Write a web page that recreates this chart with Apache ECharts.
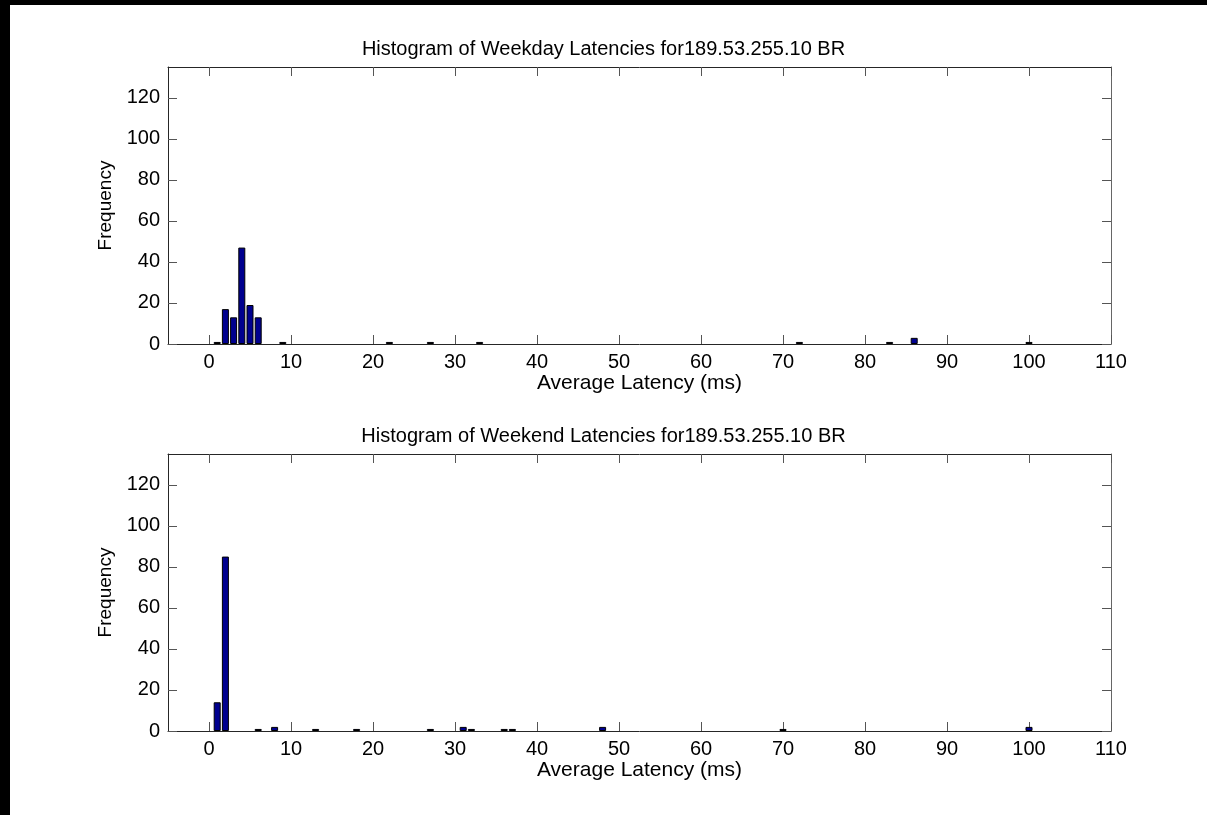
<!DOCTYPE html>
<html>
<head>
<meta charset="utf-8">
<script src="https://cdn.jsdelivr.net/npm/echarts@6/dist/echarts.min.js"></script>
<style>
html,body{margin:0;padding:0;background:#fff;}
#c{width:1207px;height:815px;}
</style>
</head>
<body>
<div id="c"></div>
<script>
// Data
const weekdayBins = [1, 2, 3, 4, 5, 6, 9, 22, 27, 33, 72, 83, 86, 100];
const weekdayCounts = [1, 17, 13, 47, 19, 13, 1, 1, 1, 1, 1, 1, 3, 1];
const weekendBins = [1, 2, 6, 8, 13, 18, 27, 31, 32, 36, 37, 48, 70, 100];
const weekendCounts = [14, 85, 1, 2, 1, 1, 1, 2, 1, 1, 1, 2, 1, 2];
const xTickLabels = [0, 10, 20, 30, 40, 50, 60, 70, 80, 90, 100, 110];
const yTickLabels = [0, 20, 40, 60, 80, 100, 120];
const titles = [
  'Histogram of Weekday Latencies for189.53.255.10 BR',
  'Histogram of Weekend Latencies for189.53.255.10 BR'
];
const xName = 'Average Latency (ms)';
const yName = 'Frequency';

const FONT = 'Liberation Sans';
const axisColor = '#262626';
const tickColor = '#555';

function pairs(xs, ys) { return xs.map((x, i) => [x, ys[i]]); }

const grids = [
  { left: 168, top: 67, width: 943, height: 277 },
  { left: 168, top: 454, width: 943, height: 277 }
];

const xAxes = [], yAxes = [], series = [], titleOpts = [];
grids.forEach((g, gi) => {
  xAxes.push({
    type: 'value', gridIndex: gi, position: 'bottom', min: -5, max: 110,
    name: xName, nameLocation: 'middle', nameGap: 27,
    nameTextStyle: { fontFamily: FONT, fontSize: 21, color: '#000' },
    axisLine: { show: true, onZero: false, lineStyle: { color: axisColor, width: 1 } },
    axisTick: { show: true, inside: true, length: 9, customValues: xTickLabels, lineStyle: { color: tickColor } },
    axisLabel: { show: true, customValues: xTickLabels, margin: 8, fontFamily: FONT, fontSize: 20, color: '#000' },
    splitLine: { show: false }
  });
  xAxes.push({
    type: 'value', gridIndex: gi, position: 'top', min: -5, max: 110,
    axisLine: { show: true, onZero: false, lineStyle: { color: axisColor, width: 1 } },
    axisTick: { show: true, inside: true, length: 9, customValues: xTickLabels, lineStyle: { color: tickColor } },
    axisLabel: { show: false },
    splitLine: { show: false }
  });
  yAxes.push({
    type: 'value', gridIndex: gi, position: 'left', min: 0, max: 135,
    name: yName, nameLocation: 'middle', nameRotate: 90, nameGap: 52,
    nameTextStyle: { fontFamily: FONT, fontSize: 19, color: '#000' },
    axisLine: { show: true, onZero: false, lineStyle: { color: axisColor, width: 1 } },
    axisTick: { show: true, inside: true, length: 9, customValues: yTickLabels, lineStyle: { color: tickColor } },
    axisLabel: { show: true, customValues: yTickLabels, margin: 8, fontFamily: FONT, fontSize: 20, color: '#000' },
    splitLine: { show: false }
  });
  yAxes.push({
    type: 'value', gridIndex: gi, position: 'right', min: 0, max: 135,
    axisLine: { show: true, onZero: false, lineStyle: { color: '#666', width: 1 } },
    axisTick: { show: true, inside: true, length: 9, customValues: yTickLabels, lineStyle: { color: tickColor } },
    axisLabel: { show: false },
    splitLine: { show: false }
  });
  titleOpts.push({
    text: titles[gi], left: 'center', top: g.top - 33,
    textStyle: { fontFamily: FONT, fontSize: 20, fontWeight: 'normal', color: '#000' }
  });
});

const datasets = [pairs(weekdayBins, weekdayCounts), pairs(weekendBins, weekendCounts)];
datasets.forEach((d, gi) => {
  series.push({
    type: 'bar', xAxisIndex: gi * 2, yAxisIndex: gi * 2,
    data: d, barWidth: 7, silent: true, animation: false,
    itemStyle: { color: '#00008F', borderColor: '#000', borderWidth: 1 }
  });
});

const chart = echarts.init(document.getElementById('c'), null, { renderer: 'canvas' });
chart.setOption({
  animation: false,
  backgroundColor: '#fff',
  title: titleOpts,
  grid: grids,
  xAxis: xAxes,
  yAxis: yAxes,
  series: series,
  graphic: [
    { type: 'rect', shape: { x: 0, y: 0, width: 1207, height: 5 }, style: { fill: '#000' }, z: 100 },
    { type: 'rect', shape: { x: 0, y: 0, width: 10, height: 815 }, style: { fill: '#000' }, z: 100 }
  ]
});
</script>
</body>
</html>
